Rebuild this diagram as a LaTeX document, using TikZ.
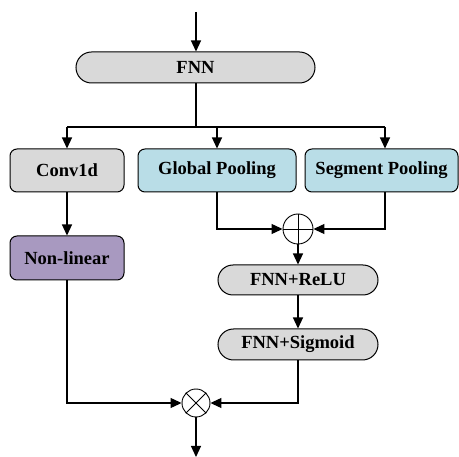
\documentclass[tikz,border=0pt]{standalone}
\usepackage{fontspec}
\setmainfont{Liberation Serif}
\usetikzlibrary{arrows.meta}
\definecolor{boxgray}{HTML}{D9D9D9}
\definecolor{boxblue}{HTML}{B9DDE7}
\definecolor{boxpurple}{HTML}{A899C0}
\tikzset{
  every node/.style={font=\fontsize{18.5}{20}\selectfont\bfseries},
  blk/.style={draw, line width=1pt, rectangle, inner sep=0pt, rounded corners=7pt},
  pill/.style={draw, line width=1pt, rectangle, inner sep=0pt},
  opnode/.style={draw, line width=0.9pt, circle, inner sep=0pt},
  link/.style={line width=1.2pt, -{Triangle[length=11pt,width=10pt]}},
  wire/.style={line width=1.2pt}
}
\begin{document}
\begin{tikzpicture}[x=1pt,y=-1pt]
\useasboundingbox (0,0) rectangle (459,457);

% main blocks
\node[pill, fill=boxgray, minimum width=239pt, minimum height=31pt, rounded corners=15.5pt] (fnn) at (195.5,67.5) {FNN};
\node[blk, fill=boxgray, minimum width=114pt, minimum height=43pt] (conv) at (67,170.5) {Conv1d};
\node[blk, fill=boxblue, minimum width=158pt, minimum height=43pt] (glob) at (217,170.5) {Global Pooling};
\node[blk, fill=boxblue, minimum width=153pt, minimum height=43pt] (seg) at (381.5,170.5) {Segment Pooling};
\node[blk, fill=boxpurple, minimum width=114pt, minimum height=44pt] (nonlin) at (67,258) {Non-linear};
\node[pill, fill=boxgray, minimum width=160pt, minimum height=30pt, rounded corners=15pt] (relu) at (298,280) {FNN+ReLU};
\node[pill, fill=boxgray, minimum width=160pt, minimum height=31pt, rounded corners=15.5pt] (sig) at (298,344.5) {FNN+Sigmoid};

% operators
\node[opnode, minimum size=30pt] (oplus) at (298,229) {};
\draw[line width=0.9pt] (oplus.north) -- (oplus.south) (oplus.west) -- (oplus.east);
\node[opnode, minimum size=28pt] (otimes) at (196,403) {};
\draw[line width=0.9pt] (otimes.north east) -- (otimes.south west) (otimes.north west) -- (otimes.south east);

% helper points
\coordinate (in) at (196,12);
\coordinate (split) at (196,127);
\coordinate (out) at (196,457);
\coordinate (bl) at (67,127);
\coordinate (bm) at (217,127);
\coordinate (br) at (385,127);

% connectors
\draw[link] (in) -- (fnn.north -| in);
\draw[wire] (fnn.south -| split) -- (split);
\draw[wire] (bl) -- (br);
\draw[link] (bl) -- (conv.north);
\draw[link] (bm) -- (glob.north);
\draw[link] (br) -- (seg.north -| br);
\draw[link] (glob.south) |- (oplus.west);
\draw[link] (seg.south -| br) |- (oplus.east);
\draw[link] (conv.south) -- (nonlin.north);
\draw[link] (oplus.south) -- (relu.north);
\draw[link] (relu.south) -- (sig.north);
\draw[link] (nonlin.south) |- (otimes.west);
\draw[link] (sig.south) |- (otimes.east);
\draw[link] (otimes.south) -- (out);
\end{tikzpicture}
\end{document}
